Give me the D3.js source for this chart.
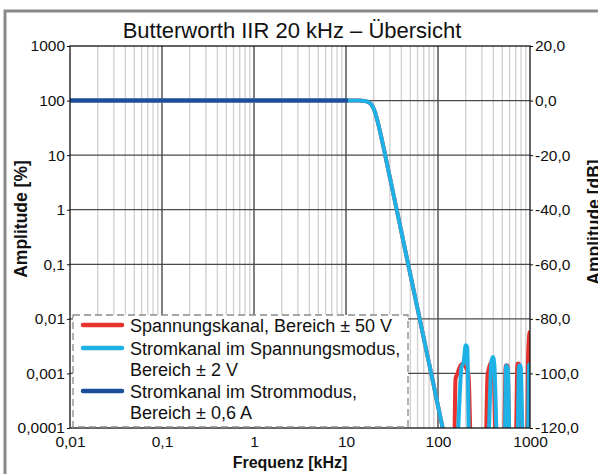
<!DOCTYPE html>
<html><head><meta charset="utf-8">
<script src="https://cdn.jsdelivr.net/npm/d3@7"></script>
<style>
html,body{margin:0;padding:0;background:#fff;}
svg{display:block;font-family:"Liberation Sans",Arial,sans-serif;}
</style></head>
<body><svg id="c" width="598" height="474"></svg>
<script>
// ---- data (frequency in kHz, amplitude in %) ----
const mainFreq = [0.01, 1, 10, 12, 14, 16, 18, 19, 20, 21, 22, 24, 26, 28, 30, 35, 40, 50, 60, 70, 80, 90, 100, 110, 120];
const mainAmp  = [100, 100, 100, 100, 99.8, 98.6, 91.9, 83.3, 70.7, 56.1, 42.3, 22.7, 12.2, 6.76, 3.9, 1.14, 0.391, 0.0655, 0.0152, 0.00444, 0.00153, 0.00059, 0.000256, 0.000119, 0.00006];

const redNoiseFreq = [150, 155, 163, 172, 185, 200, 215, 228, 330, 345, 360, 380, 400, 425, 520, 545, 570, 600, 700, 730, 760, 800, 930, 950, 980, 1000];
const redNoiseAmp  = [0.00005, 0.0008, 0.001, 0.0013, 0.0015, 0.0013, 0.0009, 0.00005, 0.00005, 0.0009, 0.0013, 0.0016, 0.0014, 0.00005, 0.00005, 0.0014, 0.0014, 0.00005, 0.00005, 0.0015, 0.0015, 0.00005, 0.00005, 0.0016, 0.005, 0.006];

const cyanNoiseFreq = [160, 180, 190, 200, 208, 218, 350, 380, 395, 410, 440, 530, 550, 575, 600, 730, 760, 790, 840, 950, 975, 1000];
const cyanNoiseAmp  = [0.00005, 0.0013, 0.0016, 0.0033, 0.003, 0.00005, 0.00005, 0.0016, 0.002, 0.0014, 0.00005, 0.00005, 0.0014, 0.0012, 0.00005, 0.00005, 0.0014, 0.0014, 0.00005, 0.00005, 0.0014, 0.0015];

const blueFreq = [0.01, 0.1, 1, 10, 10.5];
const blueAmp  = [100, 100, 100, 100, 100];

const xTicks = [0.01, 0.1, 1, 10, 100, 1000];
const xTickLabels = ["0,01", "0,1", "1", "10", "100", "1000"];
const yTicks = [1000, 100, 10, 1, 0.1, 0.01, 0.001, 0.0001];
const yTickLabels = ["1000", "100", "10", "1", "0,1", "0,01", "0,001", "0,0001"];
const dbTicks = [20, 0, -20, -40, -60, -80, -100, -120];
const dbTickLabels = ["20,0", "0,0", "-20,0", "-40,0", "-60,0", "-80,0", "-100,0", "-120,0"];

const seriesNames = ["Spannungskanal, Bereich ± 50 V", "Stromkanal im Spannungsmodus,|Bereich ± 2 V", "Stromkanal im Strommodus,|Bereich ± 0,6 A"];
const seriesColors = ["#e8322e", "#1db1e6", "#1d4e9c"];

// ---- layout ----
const L = 70, R = 530, T = 46, B = 428;
const svg = d3.select("#c");

const x = d3.scaleLog().domain([0.01, 1000]).range([L, R]);
const y = d3.scaleLog().domain([0.0001, 1000]).range([B, T]);
const yDb = d3.scaleLinear().domain([-120, 20]).range([B, T]);

// outer frame (cut at right/bottom)
svg.append("rect").attr("x", 5).attr("y", 11).attr("width", 700).attr("height", 600)
  .attr("fill", "none").attr("stroke", "#8a8a8a").attr("stroke-width", 3);

// title
svg.append("text").attr("x", 292).attr("y", 38).attr("text-anchor", "middle")
  .attr("font-size", 22).attr("fill", "#111").text("Butterworth IIR 20 kHz – Übersicht");

// grid: minor vertical
const minor = [];
for (let e = -2; e < 3; e++) for (let m = 2; m <= 9; m++) minor.push(m * Math.pow(10, e));
svg.append("g").selectAll("line").data(minor).join("line")
  .attr("x1", d => x(d)).attr("x2", d => x(d)).attr("y1", T).attr("y2", B)
  .attr("stroke", "#d2d2d2").attr("stroke-width", 1.4);
// major vertical
svg.append("g").selectAll("line").data(xTicks.slice(1, -1)).join("line")
  .attr("x1", d => x(d)).attr("x2", d => x(d)).attr("y1", T).attr("y2", B)
  .attr("stroke", "#3a3a3a").attr("stroke-width", 1.3);
// major horizontal
svg.append("g").selectAll("line").data(yTicks.slice(1, -1)).join("line")
  .attr("x1", L).attr("x2", R).attr("y1", d => y(d)).attr("y2", d => y(d))
  .attr("stroke", "#4a4a4a").attr("stroke-width", 1.3);

// clip
svg.append("clipPath").attr("id", "clip").append("rect")
  .attr("x", L).attr("y", T).attr("width", R - L).attr("height", B - T);

const line = d3.line().x(d => x(d[0])).y(d => y(d[1])).curve(d3.curveMonotoneX);
const zip = (f, a) => f.map((v, i) => [v, a[i]]);

const redData = zip(mainFreq, mainAmp).concat(zip(redNoiseFreq, redNoiseAmp));
const cyanData = zip(mainFreq, mainAmp).concat(zip(cyanNoiseFreq, cyanNoiseAmp));
const blueData = zip(blueFreq, blueAmp);

const gL = svg.append("g").attr("clip-path", "url(#clip)");
gL.append("path").datum(redData).attr("d", line).attr("fill", "none")
  .attr("stroke", seriesColors[0]).attr("stroke-width", 4).attr("stroke-linejoin", "round");
gL.append("path").datum(cyanData).attr("d", line).attr("fill", "none")
  .attr("stroke", seriesColors[1]).attr("stroke-width", 4).attr("stroke-linejoin", "round");
gL.append("path").datum(blueData).attr("d", line).attr("fill", "none")
  .attr("stroke", seriesColors[2]).attr("stroke-width", 4);

// plot frame
svg.append("rect").attr("x", L).attr("y", T).attr("width", R - L).attr("height", B - T)
  .attr("fill", "none").attr("stroke", "#111").attr("stroke-width", 1.3);

// axes
const fs = 15.5;
const axL = svg.append("g").attr("transform", `translate(${L},0)`)
  .call(d3.axisLeft(y).tickValues(yTicks).tickFormat((d, i) => yTickLabels[i]).tickSize(3).tickPadding(2));
const axR = svg.append("g").attr("transform", `translate(${R},0)`)
  .call(d3.axisRight(yDb).tickValues(dbTicks).tickFormat((d, i) => dbTickLabels[i]).tickSize(3).tickPadding(2));
const axB = svg.append("g").attr("transform", `translate(0,${B})`)
  .call(d3.axisBottom(x).tickValues(xTicks).tickFormat((d, i) => xTickLabels[i]).tickSize(0).tickPadding(8));
[axL, axR, axB].forEach(a => {
  a.select(".domain").remove();
  a.selectAll("text").attr("font-size", fs).attr("font-family", "Liberation Sans, Arial, sans-serif").attr("fill", "#111");
  a.selectAll("line").attr("stroke", "#111");
});

// axis titles
svg.append("text").attr("transform", "translate(27,219) rotate(-90)").attr("text-anchor", "middle")
  .attr("font-size", 17.5).attr("font-weight", "bold").attr("fill", "#111").text("Amplitude [%]");
svg.append("text").attr("transform", "translate(600,222) rotate(-90)").attr("text-anchor", "middle")
  .attr("font-size", 17.5).attr("font-weight", "bold").attr("fill", "#111").text("Amplitude [dB]");
svg.append("text").attr("x", 290).attr("y", 468).attr("text-anchor", "middle")
  .attr("font-size", 16).attr("font-weight", "bold").attr("fill", "#111").text("Frequenz [kHz]");

// legend
const lg = svg.append("g");
lg.append("rect").attr("x", 73).attr("y", 315).attr("width", 335).attr("height", 112)
  .attr("fill", "#fff").attr("stroke", "#8a8a8a").attr("stroke-width", 1.3).attr("stroke-dasharray", "7,4");
const rows = [325, 348, 391];
const lineH = 21.5;
seriesNames.forEach((name, i) => {
  lg.append("line").attr("x1", 83).attr("x2", 122).attr("y1", rows[i]).attr("y2", rows[i])
    .attr("stroke", seriesColors[i]).attr("stroke-width", 4.5).attr("stroke-linecap", "round");
  name.split("|").forEach((part, j) => {
    lg.append("text").attr("x", 130).attr("y", rows[i] + 6.5 + j * lineH)
      .attr("font-size", 18).attr("fill", "#111").text(part);
  });
});
</script></body></html>
